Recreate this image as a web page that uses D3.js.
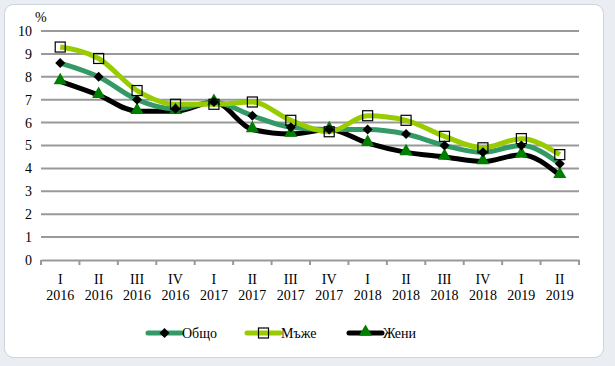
<!DOCTYPE html>
<html lang="bg">
<head>
<meta charset="UTF-8">
<title>Безработица</title>
<style>
  body { margin: 0; background: #fff; }
  svg { display: block; font-family: "Liberation Serif", "Times New Roman", serif; }
</style>
</head>
<body>
<div id="chart"></div>
<script src="https://d3js.org/d3.v7.min.js"></script>
<script>
// quarters and years
const quarters = ['I','II','III','IV','I','II','III','IV','I','II','III','IV','I','II'];
const years = ['2016','2016','2016','2016','2017','2017','2017','2017','2018','2018','2018','2018','2019','2019'];

// series values, %
const total = [8.6, 8.0, 7.0, 6.6, 6.9, 6.3, 5.8, 5.7, 5.7, 5.5, 5.0, 4.7, 5.0, 4.2];
const men   = [9.3, 8.8, 7.4, 6.8, 6.8, 6.9, 6.1, 5.6, 6.3, 6.1, 5.4, 4.9, 5.3, 4.6];
const women = [7.8, 7.2, 6.5, 6.5, 6.9, 5.7, 5.5, 5.7, 5.1, 4.7, 4.5, 4.3, 4.6, 3.7];

const yTicks = [0,1,2,3,4,5,6,7,8,9,10];

const series = [
  { name: 'Общо', values: total, color: '#339966', marker: 'diamond' },
  { name: 'Мъже', values: men,   color: '#99cc00', marker: 'square' },
  { name: 'Жени', values: women, color: '#000000', marker: 'triangle' }
];

const W = 615, H = 366;
const m = { left: 41, right: 36, top: 31, bottom: 106 };

const svg = d3.select('#chart').append('svg')
  .attr('width', W).attr('height', H);

// window-like frame
svg.append('rect').attr('width', W).attr('height', H).attr('fill', '#eaeef3');
svg.append('rect')
  .attr('x', 4.5).attr('y', 4.5).attr('width', 599).attr('height', 353)
  .attr('rx', 9).attr('fill', '#fff').attr('stroke', '#ccd4dd');

const idx = d3.range(quarters.length);
const x = d3.scaleBand().domain(idx).range([m.left, W - m.right]);
const y = d3.scaleLinear().domain([0, 10]).range([H - m.bottom, m.top]);

// grid
svg.append('g')
  .selectAll('line').data(yTicks.filter(d => d > 0)).join('line')
  .attr('x1', m.left).attr('x2', W - m.right)
  .attr('y1', d => y(d)).attr('y2', d => y(d))
  .attr('stroke', '#999').attr('stroke-width', 2);

// y axis labels
const yAxis = svg.append('g')
  .attr('transform', `translate(${m.left},0)`)
  .call(d3.axisLeft(y).tickValues(yTicks).tickSize(0).tickPadding(9).tickFormat(d3.format('d')));
yAxis.select('.domain').remove();
yAxis.selectAll('text').attr('font-size', 14).attr('fill', '#000')
  .attr('font-family', '"Liberation Serif", serif');

svg.append('text').attr('x', 35).attr('y', 22).attr('font-size', 14).text('%');

// x axis
const xAxis = svg.append('g')
  .attr('transform', `translate(0,${y(0)})`)
  .call(d3.axisBottom(x).tickSize(0).tickFormat(''));
xAxis.select('.domain').attr('stroke', '#999').attr('stroke-width', 2);
const bounds = idx.map(i => x(i)).concat([W - m.right]);
xAxis.selectAll('.sep').data(bounds).join('line')
  .attr('class', 'sep')
  .attr('x1', d => d).attr('x2', d => d)
  .attr('y1', 0).attr('y2', 5)
  .attr('stroke', '#999').attr('stroke-width', 2);

const lbl = svg.append('g').attr('font-size', 14).attr('text-anchor', 'middle');
lbl.selectAll('text.q').data(idx).join('text')
  .attr('class', 'q')
  .attr('x', i => x(i) + x.bandwidth() / 2).attr('y', 284)
  .text(i => quarters[i]);
lbl.selectAll('text.yr').data(idx).join('text')
  .attr('class', 'yr')
  .attr('x', i => x(i) + x.bandwidth() / 2).attr('y', 300)
  .text(i => years[i]);

const cx = i => x(i) + x.bandwidth() / 2;
const line = d3.line().x((d, i) => cx(i)).y(d => y(d)).curve(d3.curveMonotoneX);

function drawMarker(g, type, px, py) {
  if (type === 'diamond') {
    g.append('path').attr('d', 'M0,-5L5,0L0,5L-5,0Z')
      .attr('transform', `translate(${px},${py})`).attr('fill', '#000');
  } else if (type === 'square') {
    g.append('rect').attr('x', px - 5).attr('y', py - 5).attr('width', 10).attr('height', 10)
      .attr('fill', 'none').attr('stroke', '#000').attr('stroke-width', 1.2);
  } else {
    g.append('path').attr('d', d3.symbol(d3.symbolTriangle, 75)())
      .attr('transform', `translate(${px},${py - 1})`).attr('fill', '#008000');
  }
}

// lines (women drawn first, then total, then men on top like reference)
const order = [series[2], series[0], series[1]];
order.forEach(s => {
  svg.append('path').datum(s.values)
    .attr('d', line).attr('fill', 'none')
    .attr('stroke', s.color).attr('stroke-width', 5)
    .attr('stroke-linejoin', 'round');
});
order.forEach(s => {
  const g = svg.append('g');
  s.values.forEach((v, i) => drawMarker(g, s.marker, cx(i), y(v)));
});

// legend
const legX = [148, 247, 349];
series.forEach((s, k) => {
  const g = svg.append('g').attr('transform', `translate(${legX[k]},333)`);
  g.append('line').attr('x1', 0).attr('x2', 33).attr('y1', 0).attr('y2', 0)
    .attr('stroke', s.color).attr('stroke-width', 5).attr('stroke-linecap', 'round');
  drawMarker(g, s.marker, 16.5, 0);
  g.append('text').attr('x', 34).attr('y', 5).attr('font-size', 14).text(s.name);
});
</script>
</body>
</html>
